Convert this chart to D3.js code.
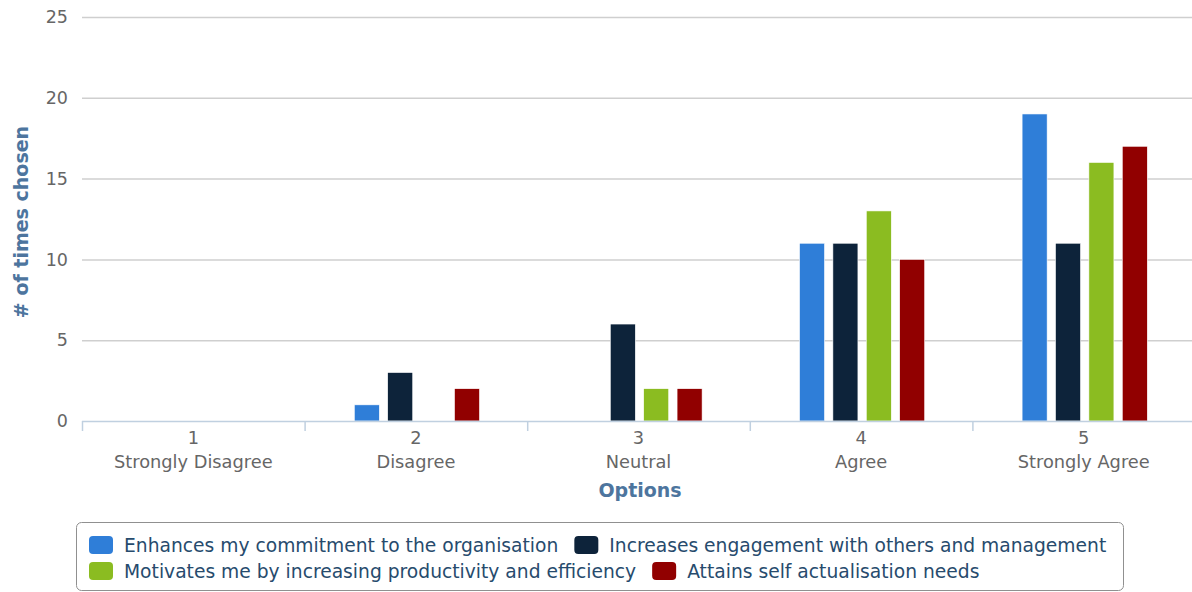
<!DOCTYPE html>
<html>
<head>
<meta charset="utf-8">
<script src="https://cdn.jsdelivr.net/npm/d3@7"></script>
<style>
  body { margin: 0; background: #fff; }
  svg { display: block; font-family: "DejaVu Sans", Verdana, sans-serif; }
</style>
</head>
<body>
<svg id="area" width="1192" height="592"></svg>
<script>
const categories = ['1', '2', '3', '4', '5'];
const categoryNames = ['Strongly Disagree', 'Disagree', 'Neutral', 'Agree', 'Strongly Agree'];
const seriesNames = [
  'Enhances my commitment to the organisation',
  'Increases engagement with others and management',
  'Motivates me by increasing productivity and efficiency',
  'Attains self actualisation needs',
];
const seriesColors = ['#2f7ed8', '#0d233a', '#8bbc21', '#910000'];
const commitment = [0, 1, 0, 11, 19];
const engagement = [0, 3, 6, 11, 11];
const productivity = [0, 0, 2, 13, 16];
const actualisation = [0, 2, 2, 10, 17];
const yTicks = [0, 5, 10, 15, 20, 25];

const seriesValues = [commitment, engagement, productivity, actualisation];

const svg = d3.select('#area');
const plot = { left: 82, right: 1195, top: 17, bottom: 421 };

const x0 = d3.scaleBand(categories, [plot.left, plot.right]);
const bw = x0.bandwidth();
const x1 = d3.scaleBand(d3.range(seriesNames.length), [bw * 0.2 + 1, bw * 0.8 + 1])
  .paddingInner(0.25)
  .paddingOuter(0.125);
const y = d3.scaleLinear([0, 25], [plot.bottom, plot.top]);

// grid
svg.append('g')
  .selectAll('line')
  .data(yTicks.filter((d) => d > 0))
  .join('line')
  .attr('x1', plot.left)
  .attr('x2', plot.right)
  .attr('y1', (d) => y(d) + 0.5)
  .attr('y2', (d) => y(d) + 0.5)
  .attr('stroke', '#cfcfcf')
  .attr('stroke-width', 1.5);

// y labels
svg.append('g')
  .selectAll('text')
  .data(yTicks)
  .join('text')
  .attr('x', 68)
  .attr('y', (d) => y(d))
  .attr('dy', '0.35em')
  .attr('text-anchor', 'end')
  .attr('fill', '#666')
  .style('font-size', '17.5px')
  .text((d) => d);

// bars
const groups = svg.append('g')
  .selectAll('g')
  .data(seriesValues)
  .join('g')
  .attr('fill', (d, i) => seriesColors[i]);

groups.selectAll('rect')
  .data((vals, i) => vals.map((v, j) => ({ v, i, cat: categories[j] })))
  .join('rect')
  .filter((d) => d.v > 0)
  .attr('x', (d) => x0(d.cat) + x1(d.i))
  .attr('width', x1.bandwidth())
  .attr('y', (d) => y(d.v))
  .attr('height', (d) => y(0) - y(d.v))
  .attr('stroke', '#fff')
  .attr('stroke-width', 0.6);

// x axis line and ticks
svg.append('line')
  .attr('x1', plot.left)
  .attr('x2', plot.right)
  .attr('y1', plot.bottom + 0.5)
  .attr('y2', plot.bottom + 0.5)
  .attr('stroke', '#c0d0e0')
  .attr('stroke-width', 1.5);

svg.append('g')
  .selectAll('line')
  .data(categories.concat(['end']))
  .join('line')
  .attr('x1', (d) => (d === 'end' ? plot.right : x0(d)) + 0.5)
  .attr('x2', (d) => (d === 'end' ? plot.right : x0(d)) + 0.5)
  .attr('y1', plot.bottom)
  .attr('y2', plot.bottom + 10)
  .attr('stroke', '#c0d0e0')
  .attr('stroke-width', 1.5);

// category labels
const catLabels = svg.append('g')
  .selectAll('text')
  .data(categories)
  .join('text')
  .attr('x', (d) => x0(d) + bw / 2)
  .attr('text-anchor', 'middle')
  .attr('fill', '#666')
  .style('font-size', '17.8px');
catLabels.append('tspan')
  .attr('x', (d) => x0(d) + bw / 2)
  .attr('y', 444)
  .text((d) => d);
catLabels.append('tspan')
  .attr('x', (d) => x0(d) + bw / 2)
  .attr('y', 468)
  .text((d, i) => categoryNames[i]);

// axis titles
svg.append('text')
  .attr('x', 640)
  .attr('y', 497)
  .attr('text-anchor', 'middle')
  .attr('fill', '#4d759e')
  .style('font-size', '19px')
  .style('font-weight', 'bold')
  .text('Options');

svg.append('text')
  .attr('transform', `translate(28,${(plot.top + plot.bottom) / 2 + 3}) rotate(-90)`)
  .attr('text-anchor', 'middle')
  .attr('fill', '#4d759e')
  .style('font-size', '19px')
  .style('font-weight', 'bold')
  .text('# of times chosen');

// legend
svg.append('rect')
  .attr('x', 76.5)
  .attr('y', 522.5)
  .attr('width', 1047)
  .attr('height', 68)
  .attr('rx', 5)
  .attr('fill', '#fff')
  .attr('stroke', '#909090')
  .attr('stroke-width', 1);

const legend = svg.append('g');
const rowY = [545, 571];
let lx = 89;
let row = 0;
seriesNames.forEach((name, i) => {
  const item = legend.append('g');
  const label = item.append('text')
    .attr('dy', '0.35em')
    .attr('fill', '#274b6d')
    .style('font-size', '18.7px')
    .text(name);
  const w = 35 + label.node().getComputedTextLength();
  if (lx + w > 1118) {
    row += 1;
    lx = 89;
  }
  item.attr('transform', `translate(${lx},${rowY[row]})`);
  item.insert('rect', 'text')
    .attr('x', 0)
    .attr('y', -9)
    .attr('width', 24)
    .attr('height', 18)
    .attr('rx', 4)
    .attr('fill', seriesColors[i]);
  label.attr('x', 35);
  lx += w + 16;
});
</script>
</body>
</html>
